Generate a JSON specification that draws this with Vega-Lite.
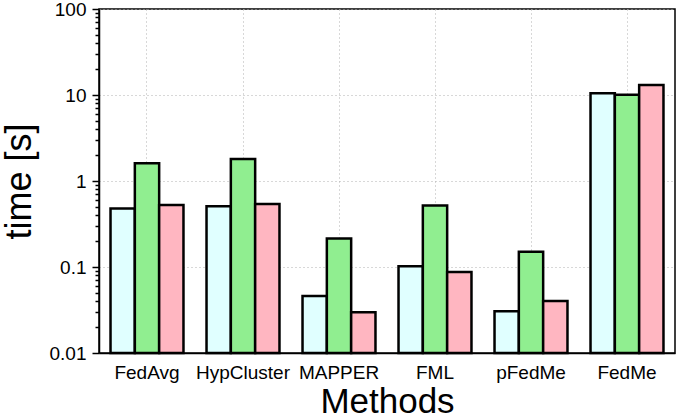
{
  "$schema": "https://vega.github.io/schema/vega-lite/v6.json",
  "width": 576,
  "height": 344,
  "autosize": {"type": "none"},
  "padding": {"left": 99, "top": 9, "right": 2, "bottom": 64},
  "config": {
    "font": "Liberation Sans",
    "view": {"stroke": "black", "strokeWidth": 1.5},
    "axis": {"domainColor": "black", "domainWidth": 1.5, "tickColor": "black", "tickWidth": 1.5, "labelColor": "black", "titleColor": "black", "titleFontWeight": "normal"}
  },
  "data": {
    "values": [
      {"method": "FedAvg", "series": "a", "time": 0.48},
      {"method": "FedAvg", "series": "b", "time": 1.61},
      {"method": "FedAvg", "series": "c", "time": 0.526},
      {"method": "HypCluster", "series": "a", "time": 0.508},
      {"method": "HypCluster", "series": "b", "time": 1.8},
      {"method": "HypCluster", "series": "c", "time": 0.54},
      {"method": "MAPPER", "series": "a", "time": 0.046},
      {"method": "MAPPER", "series": "b", "time": 0.215},
      {"method": "MAPPER", "series": "c", "time": 0.0297},
      {"method": "FML", "series": "a", "time": 0.102},
      {"method": "FML", "series": "b", "time": 0.52},
      {"method": "FML", "series": "c", "time": 0.0875},
      {"method": "pFedMe", "series": "a", "time": 0.0305},
      {"method": "pFedMe", "series": "b", "time": 0.15},
      {"method": "pFedMe", "series": "c", "time": 0.0402},
      {"method": "FedMe", "series": "a", "time": 10.5},
      {"method": "FedMe", "series": "b", "time": 10.1},
      {"method": "FedMe", "series": "c", "time": 13.1}
    ]
  },
  "resolve": {"scale": {"x": "independent", "y": "independent"}, "axis": {"x": "independent", "y": "independent"}},
  "layer": [
    {
      "mark": {"type": "bar", "stroke": "black", "strokeWidth": 2.5},
      "encoding": {
        "x": {"field": "method", "type": "nominal", "sort": null,
              "scale": {"paddingInner": 0.24, "paddingOuter": 0.12},
              "axis": {"orient": "bottom", "title": "Methods", "labelAngle": 0, "labelFontSize": 19, "titleFontSize": 35, "labelPadding": 10, "titlePadding": 2, "ticks": false, "grid": true, "bandPosition": 0.5, "gridColor": "#b0b0b0", "gridDash": [1, 3], "gridWidth": 1}},
        "xOffset": {"field": "series", "type": "nominal"},
        "y": {"field": "time", "type": "quantitative", "stack": null,
              "scale": {"type": "log", "domain": [0.01, 100]},
              "axis": {"orient": "left", "title": "time [s]", "values": [0.01, 0.1, 1, 10, 100], "format": "~g", "labelFontSize": 19, "titleFontSize": 36, "labelPadding": 6, "titlePadding": 11, "ticks": true, "tickSize": 7, "grid": true, "gridColor": "#b0b0b0", "gridDash": [1, 3], "gridWidth": 1}},
        "color": {"field": "series", "type": "nominal", "legend": null,
                  "scale": {"domain": ["a", "b", "c"], "range": ["#E0FFFF", "#90EE90", "#FFB6C1"]}}
      }
    },
    {
      "mark": {"type": "bar", "opacity": 0},
      "encoding": {
        "x": {"field": "method", "type": "nominal", "sort": null,
              "scale": {"paddingInner": 0.24, "paddingOuter": 0.12},
              "axis": null},
        "y": {"field": "time", "type": "quantitative", "stack": null,
              "scale": {"type": "log", "domain": [0.01, 100]},
              "axis": {"orient": "left", "title": null, "labels": false, "ticks": true, "tickSize": 4, "domain": false,
                       "values": [0.02,0.03,0.04,0.05,0.06,0.07,0.08,0.09,0.2,0.3,0.4,0.5,0.6,0.7,0.8,0.9,2,3,4,5,6,7,8,9,20,30,40,50,60,70,80,90],
                       "grid": false}}
      }
    }
  ]
}
